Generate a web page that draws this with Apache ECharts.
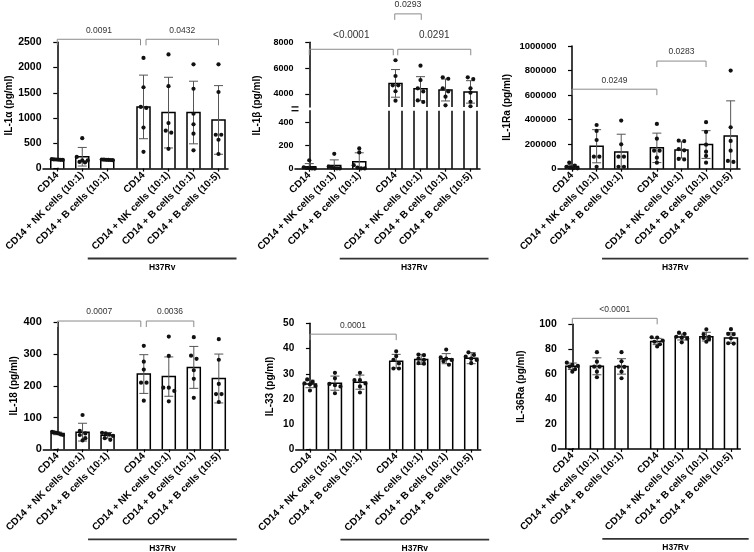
<!DOCTYPE html>
<html><head><meta charset="utf-8">
<script src="https://cdn.jsdelivr.net/npm/echarts@6/dist/echarts.min.js"></script>
<style>html,body{margin:0;padding:0;background:#fff}#c{width:754px;height:552px}</style>
</head><body><div id="c"></div>
<script>
// ---------------- DATA ----------------
const categories = ['CD14','CD14 + NK cells (10:1)','CD14 + B cells (10:1)','CD14','CD14 + NK cells (10:1)','CD14 + B cells (10:1)','CD14 + B cells (10:5)'];
const xPositions = [0, 1, 2, 3.45, 4.45, 5.45, 6.45];
const groupLabel = 'H37Rv';
const groupSpan = [1.22, 7.17];

// IL-1α
const il1aTicks = [0, 500, 1000, 1500, 2000, 2500];
const il1aMean = [177, 233, 171, 1220, 1107, 1109, 962];
const il1aSD = [6, 184, 5, 630, 700, 620, 680];
const il1aDots = [
  [185, 180, 178, 175, 172, 170],
  [600, 230, 160, 130, 120, 160],
  [178, 175, 172, 170, 168, 165],
  [2190, 1610, 1200, 1220, 810, 330],
  [2260, 1630, 900, 750, 710, 390],
  [2063, 1580, 1085, 875, 689, 360],
  [2063, 1515, 669, 669, 570, 287]
];
const il1aBrackets = [[0, 3.33, 2560, '0.0091'], [3.55, 6.45, 2560, '0.0432']];

// IL-1β (broken axis: 0–500 and 3000–8000)
const il1bTicksLow = [0, 200, 400];
const il1bTicksHigh = [4000, 6000, 8000];
const il1bBreak = [500, 3000];
const il1bMean = [16, 27, 60, 4820, 4410, 4310, 4160];
const il1bSD = [28, 49, 77, 1070, 930, 850, 870];
const il1bDots = [
  [73, 12, 6, 4, 2, 1],
  [128, 18, 10, 5, 3, 2],
  [175, 140, 30, 10, 2, 2],
  [6610, 5390, 4670, 4670, 4210, 3480],
  [6190, 5080, 4440, 4200, 3500, 3380],
  [5290, 5180, 4440, 4200, 3790, 3120],
  [5290, 5150, 4440, 4100, 3400, 3050]
];
const il1bBrackets = [[0, 3.36, 7460, '<0.0001'], [3.54, 6.46, 7460, '0.0291'], [3.42, 4.48, 10200, '0.0293']];

// IL-1Ra
const il1raTicks = [0, 200000, 400000, 600000, 800000, 1000000];
const il1raMean = [18000, 183000, 136000, 170000, 153000, 197000, 267000];
const il1raSD = [15000, 135000, 145000, 120000, 66000, 113000, 286000];
const il1raDots = [
  [50000, 25000, 15000, 10000, 5000, 3000],
  [356000, 308000, 234000, 98000, 98000, 16000],
  [392000, 199000, 98000, 98000, 16000, 16000],
  [365000, 245000, 147000, 147000, 90000, 49000],
  [230000, 225000, 160000, 150000, 80000, 75000],
  [379000, 300000, 196000, 139000, 104000, 49000],
  [800000, 338000, 226000, 147000, 63000, 55000]
];
const il1raBrackets = [[0, 3.45, 648000, '0.0249'], [3.45, 5.45, 877000, '0.0283']];

// IL-18
const il18Ticks = [0, 100, 200, 300, 400];
const il18Mean = [50, 54, 44, 237, 229, 258, 223];
const il18SD = [4, 28, 9, 61, 62, 66, 77];
const il18Dots = [
  [55, 53, 52, 50, 47, 45],
  [108, 58, 50, 45, 35, 28],
  [52, 50, 46, 42, 35, 30],
  [326, 276, 251, 210, 210, 153],
  [355, 294, 194, 194, 184, 151],
  [353, 295, 285, 249, 222, 162],
  [347, 282, 206, 174, 174, 149]
];
const il18Brackets = [[0, 3.33, 404, '0.0007'], [3.55, 5.45, 404, '0.0036']];

// IL-33
const il33Ticks = [0, 10, 20, 30, 40, 50];
const il33Mean = [26.0, 26.3, 26.7, 35.0, 35.7, 36.0, 36.2];
const il33SD = [1.5, 2.8, 2.8, 2.7, 2.0, 2.0, 2.2];
const il33Dots = [
  [27.8, 26.8, 26.2, 25.8, 25.2, 23.4],
  [30.4, 28.2, 26.0, 25.5, 25.0, 22.3],
  [30.4, 27.5, 27.5, 26.2, 25.0, 22.6],
  [38.9, 37.0, 35.5, 34.1, 32.1, 32.1],
  [37.6, 37.4, 36.0, 35.5, 34.2, 34.0],
  [39.6, 36.5, 36.0, 35.5, 35.0, 33.6],
  [38.5, 37.5, 36.8, 36.0, 35.5, 34.2]
];
const il33Brackets = [[0, 3.45, 45.7, '0.0001']];

// IL-36Ra
const il36Ticks = [0, 20, 40, 60, 80, 100];
const il36Mean = [66.3, 66.3, 66.2, 86.2, 89.8, 90.1, 89.0];
const il36SD = [2.6, 6.8, 6.2, 2.5, 2.4, 3.5, 4.3];
const il36Dots = [
  [69.2, 67.5, 66.6, 66.0, 64.0, 62.0],
  [77.6, 70.0, 66.0, 66.0, 62.0, 57.5],
  [77.6, 70.3, 66.0, 65.8, 62.0, 56.7],
  [89.6, 89.4, 87.0, 86.0, 84.0, 82.2],
  [93.3, 92.3, 90.0, 89.3, 88.5, 85.5],
  [96.0, 92.0, 90.0, 89.0, 88.0, 86.0],
  [96.1, 92.3, 92.0, 88.8, 84.8, 84.5]
];
const il36Brackets = [[0, 3.45, 104.8, '<0.0001']];

// ---------------- RENDERING ----------------
const FONT = 'Arial, "Liberation Sans", Helvetica, sans-serif';
const XMIN = -0.57, XMAX = 6.83;
const BAR_HW = 6.5, CAP_HW = 4.5, DOT_R = 2.1;

const opt = {animation: false, backgroundColor: '#fff', grid: [], xAxis: [], yAxis: [], series: []};

function nearestCat(v) {
  let best = 0;
  xPositions.forEach((p, i) => { if (Math.abs(p - v) < Math.abs(xPositions[best] - v)) best = i; });
  return Math.abs(xPositions[best] - v) < 0.01 ? categories[best] : '';
}

function addGrid(rect, xShow, y) {
  const g = opt.grid.length;
  opt.grid.push({left: rect[0], top: rect[1], width: rect[2], height: rect[3]});
  opt.xAxis.push({
    gridIndex: g, type: 'value', min: XMIN, max: XMAX, show: xShow,
    axisLine: {show: true, onZero: false, lineStyle: {color: '#000', width: 1.5}},
    axisTick: {show: true, customValues: xPositions, length: 3, lineStyle: {color: '#000', width: 1.2}},
    axisLabel: {show: true, customValues: xPositions, rotate: 45, formatter: v => nearestCat(v),
      fontSize: 10, fontWeight: 'bold', color: '#000', fontFamily: FONT, margin: 5},
    splitLine: {show: false}
  });
  const ya = {
    gridIndex: g, type: 'value', min: y.min, max: y.max,
    axisLine: {show: y.line !== false, lineStyle: {color: '#000', width: 1.5}},
    axisTick: {show: y.line !== false, customValues: y.tickVals, length: 4, lineStyle: {color: '#000', width: 1.2}},
    axisLabel: {show: y.line !== false, customValues: y.labelVals, formatter: v => String(v),
      fontSize: y.font, fontWeight: 'bold', color: '#000', fontFamily: FONT, margin: 1.5},
    splitLine: {show: false}
  };
  if (y.name) {
    ya.name = y.name; ya.nameLocation = 'middle'; ya.nameGap = y.nameGap;
    ya.nameTextStyle = {fontSize: 10, fontWeight: 'bold', color: '#000', fontFamily: FONT};
  }
  opt.yAxis.push(ya);
  return g;
}

function swarm(pys) {
  const idx = pys.map((_, i) => i).sort((a, b) => pys[a] - pys[b]);
  const offs = new Array(pys.length).fill(0);
  let row = [];
  const flush = () => {
    const k = row.length;
    const d = k > 3 ? 11 / (k - 1) : 5.5;
    row.forEach((r, j) => offs[r] = (j - (k - 1) / 2) * d);
    row = [];
  };
  for (const k of idx) {
    if (row.length && pys[k] - pys[row[0]] > 3.6) flush();
    row.push(k);
  }
  flush();
  return offs;
}

function addBars(g, means, sds, dots, yMin, yMax) {
  opt.series.push({
    type: 'custom', xAxisIndex: g, yAxisIndex: g, z: 3,
    data: xPositions.map((x, i) => [x, means[i], sds[i], i]),
    renderItem(params, api) {
      const x = api.value(0), m = api.value(1), s = api.value(2), i = api.value(3);
      if (m < yMin) return null;
      const cs = params.coordSys;
      const c = api.coord([x, m]);
      const b = api.coord([x, yMin]);
      const cx = c[0];
      let top = c[1], clamped = false;
      if (top < cs.y) { top = cs.y; clamped = true; }
      const bottom = b[1];
      const ch = [];
      ch.push({type: 'rect', shape: {x: cx - BAR_HW, y: top, width: 2 * BAR_HW, height: bottom - top - 0.8},
        style: {fill: '#fff', stroke: null}});
      const ls = {stroke: '#000', lineWidth: 1.5, fill: null};
      if (clamped) {
        ch.push({type: 'line', shape: {x1: cx - BAR_HW, y1: top, x2: cx - BAR_HW, y2: bottom}, style: ls});
        ch.push({type: 'line', shape: {x1: cx + BAR_HW, y1: top, x2: cx + BAR_HW, y2: bottom}, style: ls});
      } else {
        ch.push({type: 'polyline', shape: {points: [[cx - BAR_HW, bottom], [cx - BAR_HW, top], [cx + BAR_HW, top], [cx + BAR_HW, bottom]]}, style: ls});
        const yt = api.coord([x, m + s])[1];
        const yb = Math.min(api.coord([x, m - s])[1], bottom);
        const es = {stroke: '#555', lineWidth: 1};
        ch.push({type: 'line', shape: {x1: cx, y1: yt, x2: cx, y2: yb}, style: es});
        ch.push({type: 'line', shape: {x1: cx - CAP_HW, y1: yt, x2: cx + CAP_HW, y2: yt}, style: es});
        if (yb < bottom - 0.5) ch.push({type: 'line', shape: {x1: cx - CAP_HW, y1: yb, x2: cx + CAP_HW, y2: yb}, style: es});
      }
      const vals = dots[i].filter(v => v >= yMin && v <= yMax * 1.01);
      const pys = vals.map(v => api.coord([x, v])[1]);
      const offs = swarm(pys);
      pys.forEach((py, k) => ch.push({type: 'circle', shape: {cx: cx + offs[k], cy: py, r: DOT_R}, style: {fill: '#111'}}));
      return {type: 'group', children: ch};
    }
  });
}

function addBrackets(g, brackets, fontSize, lifts) {
  opt.series.push({
    type: 'custom', xAxisIndex: g, yAxisIndex: g, z: 4,
    data: brackets.map((b, i) => [b[0], b[1], b[2], i]),
    renderItem(params, api) {
      const i = api.value(3);
      const p1 = api.coord([api.value(0), api.value(2)]);
      const p2 = api.coord([api.value(1), api.value(2)]);
      const lift = lifts ? lifts[i] : 9;
      const fs = Array.isArray(fontSize) ? fontSize[i] : fontSize;
      return {type: 'group', children: [
        {type: 'polyline', shape: {points: [[p1[0], p1[1] + 6], [p1[0], p1[1]], [p2[0], p1[1]], [p2[0], p1[1] + 6]]},
          style: {stroke: '#8a8a8a', lineWidth: 1, fill: null}},
        {type: 'text', x: (p1[0] + p2[0]) / 2, y: p1[1] - lift,
          style: {text: brackets[i][3], fill: '#333', font: fs + 'px ' + FONT, align: 'center', verticalAlign: 'middle'}}
      ]};
    }
  });
}

function addGroupLabel(g, yMin) {
  opt.series.push({
    type: 'custom', xAxisIndex: g, yAxisIndex: g, z: 4,
    data: [[groupSpan[0], groupSpan[1]]],
    renderItem(params, api) {
      const p1 = api.coord([api.value(0), yMin]);
      const p2 = api.coord([api.value(1), yMin]);
      const y = p1[1] + 90;
      return {type: 'group', children: [
        {type: 'line', shape: {x1: p1[0], y1: y, x2: p2[0], y2: y}, style: {stroke: '#333', lineWidth: 1.8}},
        {type: 'text', x: (p1[0] + p2[0]) / 2, y: y + 9,
          style: {text: groupLabel, fill: '#000', font: 'bold 8.5px ' + FONT, align: 'center', verticalAlign: 'middle'}}
      ]};
    }
  });
}

function addBreakMark(g, value) {
  opt.series.push({
    type: 'custom', xAxisIndex: g, yAxisIndex: g, z: 5,
    data: [[XMIN, value]],
    renderItem(params, api) {
      const p = api.coord([api.value(0), api.value(1)]);
      return {type: 'line', shape: {x1: p[0] - 3.5, y1: p[1], x2: p[0] + 3.5, y2: p[1]}, style: {stroke: '#000', lineWidth: 1.3}};
    }
  });
}

// Panel 1: IL-1α
let g = addGrid([43, 42.3, 185, 126.2], true, {min: 0, max: 2500, tickVals: il1aTicks, labelVals: il1aTicks, font: 10.5, name: 'IL-1α (pg/ml)', nameGap: 22});
addBars(g, il1aMean, il1aSD, il1aDots, 0, 2500);
addBrackets(g, il1aBrackets, 8.5);
addGroupLabel(g, 0);

// Panel 2: IL-1β (broken axis)
let gu = addGrid([295, 42.3, 185, 64.6], false, {min: il1bBreak[1], max: 8000, tickVals: il1bTicksHigh, labelVals: il1bTicksHigh, font: 9});
addBars(gu, il1bMean, il1bSD, il1bDots, il1bBreak[1], 8000);
addBrackets(gu, il1bBrackets, [10, 10, 8.8], [14, 14, 9]);
addBreakMark(gu, il1bBreak[1]);
let gl = addGrid([295, 110.7, 185, 58], true, {min: 0, max: il1bBreak[0], tickVals: il1bTicksLow, labelVals: il1bTicksLow, font: 9});
addBars(gl, il1bMean, il1bSD, il1bDots, 0, il1bBreak[0]);
addBreakMark(gl, il1bBreak[0]);
addGroupLabel(gl, 0);
addGrid([295, 42.3, 185, 126.4], false, {min: 0, max: 1, tickVals: [], labelVals: [], font: 9, line: false, name: 'IL-1β (pg/ml)', nameGap: 33});

// Panel 3: IL-1Ra
g = addGrid([558, 46, 182, 122.7], true, {min: 0, max: 1000000, tickVals: il1raTicks, labelVals: il1raTicks, font: 9.5, name: 'IL-1Ra (pg/ml)', nameGap: 46});
addBars(g, il1raMean, il1raSD, il1raDots, 0, 1000000);
addBrackets(g, il1raBrackets, 8.5);
addGroupLabel(g, 0);

// Panel 4: IL-18
g = addGrid([43.3, 322.3, 185, 127], true, {min: 0, max: 400, tickVals: il18Ticks, labelVals: il18Ticks, font: 11, name: 'IL-18 (pg/ml)', nameGap: 23});
addBars(g, il18Mean, il18SD, il18Dots, 0, 400);
addBrackets(g, il18Brackets, 8.5);
addGroupLabel(g, 0);

// Panel 5: IL-33
g = addGrid([295.7, 323.3, 185, 126.3], true, {min: 0, max: 50, tickVals: il33Ticks, labelVals: il33Ticks, font: 10, name: 'IL-33 (pg/ml)', nameGap: 20});
addBars(g, il33Mean, il33SD, il33Dots, 0, 50);
addBrackets(g, il33Brackets, 8.5);
addGroupLabel(g, 0);

// Panel 6: IL-36Ra
g = addGrid([558.3, 324.3, 182, 124.6], true, {min: 0, max: 100, tickVals: il36Ticks, labelVals: il36Ticks, font: 10.5, name: 'IL-36Ra (pg/ml)', nameGap: 32});
addBars(g, il36Mean, il36SD, il36Dots, 0, 100);
addBrackets(g, il36Brackets, 8.5);
addGroupLabel(g, 0);

const chart = echarts.init(document.getElementById('c'), null, {renderer: 'canvas'});
chart.setOption(opt);
</script></body></html>
